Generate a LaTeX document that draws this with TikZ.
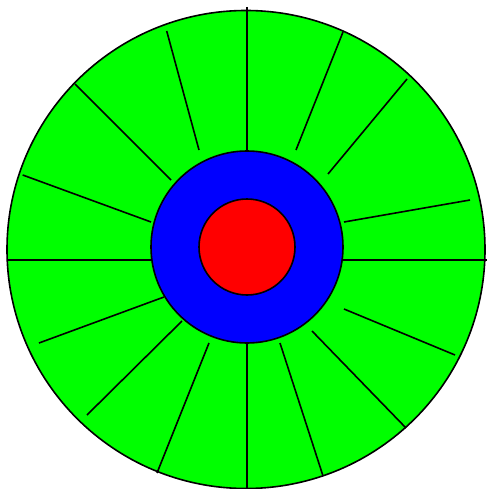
\documentclass[tikz,border=0pt]{standalone}
\begin{document}
\begin{tikzpicture}[x=1pt,y=-1pt,
  ring/.style={circle,draw=black,line width=1.6pt,inner sep=0pt},
  spoke/.style={draw=black,line width=1.6pt}]
\useasboundingbox (0,0) rectangle (487,489);
\node[ring,fill=green,minimum size=478pt] (outer) at (246,249.5) {};
% spokes
\foreach \i/\ax/\ay/\bx/\by in {
  1/247/7/247/151,
  2/166.7/31/199/150,
  3/75/84/171/180,
  4/22.7/175/151/222,
  5/7/260/151/260,
  6/39/343/164/297,
  7/87/415/182/321,
  8/157/473/209/343,
  9/247/489/247/343,
  10/322.7/475/280/343,
  11/406/428/312/331,
  12/455/355/344/309,
  13/487/260/343/260,
  14/470/200/344/222,
  15/407/79/328/174,
  16/343/32/296/150}{
  \coordinate (o\i) at (\ax,\ay);
  \coordinate (n\i) at (\bx,\by);
  \draw[spoke] (o\i) -- (n\i);
}
\node[ring,fill=blue,minimum size=192pt] (mid) at (247,247) {};
\node[ring,fill=red,minimum size=96pt] (core) at (247,247) {};
\end{tikzpicture}
\end{document}
